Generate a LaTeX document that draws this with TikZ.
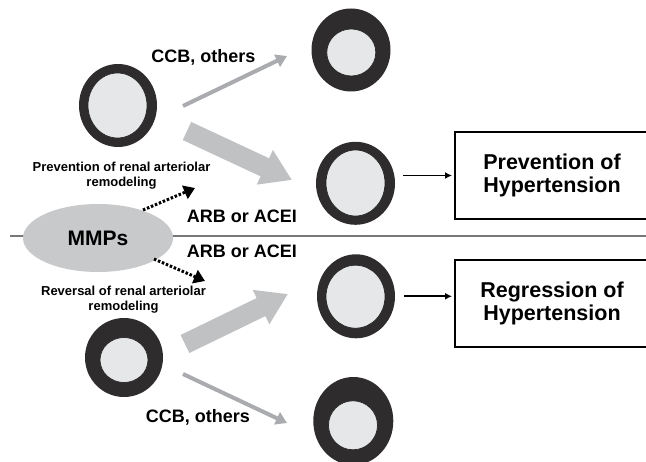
\documentclass[tikz,border=0pt]{standalone}
\usepackage{fontspec}
\setmainfont{Liberation Sans}
\usetikzlibrary{shapes.geometric,arrows.meta}
\definecolor{wallgray}{HTML}{2E2C2D}
\definecolor{lumengray}{HTML}{E6E7E8}
\definecolor{fatgray}{HTML}{C0C1C3}
\definecolor{druggray}{HTML}{A9ABAE}
\definecolor{mmpgray}{HTML}{C8C9CB}
\definecolor{sepgray}{HTML}{77787A}
\begin{document}
\begin{tikzpicture}[x=1pt, y=-1pt, inner sep=0pt, outer sep=0pt,
    wall/.style={ellipse, fill=wallgray},
    lumen/.style={ellipse, fill=lumengray, draw=black!85, line width=.7pt},
    lbl/.style={font=\bfseries\fontsize{18}{20}\selectfont, anchor=base},
    note/.style={font=\bfseries\fontsize{13}{15}\selectfont, align=center},
    outcome/.style={draw, line width=1.3pt, minimum width=194pt, minimum height=87pt, align=center,
      font=\bfseries\fontsize{21.5}{23}\selectfont},
    drug/.style={draw=druggray, line width=4pt, -{Triangle[length=11pt,width=13pt]}},
    fat/.style={draw=fatgray, line width=20pt, -{Triangle[length=30pt,width=36pt]}},
    act/.style={draw=black, line width=3pt, dash pattern=on 2.5pt off 1.8pt, -{Triangle[length=11pt,width=14pt]}},
    conn/.style={draw=black, line width=1.6pt, -{Latex[length=7pt,width=7pt]}}]
  \useasboundingbox (0,0) rectangle (646,462);
  \clip (0,0) rectangle (646,462);
  % separating line
  \coordinate (sepL) at (10,236.5);
  \coordinate (sepR) at (646,236.5);
  \draw[sepgray, line width=2pt] (sepL) -- (sepR);
  % vessels
  \node[wall, minimum width=78pt, minimum height=83pt] (v1o) at (118,105.5) {};
  \node[lumen, minimum width=59pt, minimum height=65pt] (v1i) at (117.5,105.5) {};
  \node[wall, minimum width=79pt, minimum height=83pt] (v2o) at (351,50) {};
  \node[lumen, minimum width=49pt, minimum height=47pt] (v2i) at (351.3,52.5) {};
  \node[wall, minimum width=79pt, minimum height=83pt] (v3o) at (355.5,183.3) {};
  \node[lumen, minimum width=59pt, minimum height=66pt] (v3i) at (355.5,183) {};
  \node[wall, minimum width=78pt, minimum height=84pt] (v4o) at (356,296.3) {};
  \node[lumen, minimum width=59pt, minimum height=63pt] (v4i) at (355.5,296.7) {};
  \node[wall, minimum width=80pt, minimum height=88pt] (v5o) at (353.3,421) {};
  \node[lumen, minimum width=49pt, minimum height=49pt] (v5i) at (353,425.3) {};
  \node[wall, minimum width=78pt, minimum height=79pt] (v6o) at (124,357.5) {};
  \node[lumen, minimum width=48pt, minimum height=45pt] (v6i) at (124,360) {};
  % MMPs
  \node[ellipse, fill=mmpgray, minimum width=150pt, minimum height=68pt,
    font=\bfseries\fontsize{21}{23}\selectfont] (mmp) at (98,238) {MMPs};
  % outcomes
  \node[outcome] (pbox) at (552,175.5) {Prevention of\\Hypertension};
  \node[outcome] (rbox) at (552,303.5) {Regression of\\Hypertension};
  % arrow ends
  \coordinate (d1s) at (183,106);
  \coordinate (d1e) at (287,56);
  \coordinate (f1s) at (187,131);
  \coordinate (f1e) at (292,180);
  \coordinate (f2s) at (185,344);
  \coordinate (f2e) at (288,294);
  \coordinate (d2s) at (183,374);
  \coordinate (d2e) at (287,423);
  \coordinate (a1s) at (143,210);
  \coordinate (a1e) at (195,188);
  \coordinate (a2s) at (154,259);
  \coordinate (a2e) at (205,281);
  \draw[drug] (d1s) -- (d1e);
  \draw[fat] (f1s) -- (f1e);
  \draw[fat] (f2s) -- (f2e);
  \draw[drug] (d2s) -- (d2e);
  \draw[act] (a1s) -- (a1e);
  \draw[act] (a2s) -- (a2e);
  \draw[conn, shorten <=8pt, shorten >=3pt] (v3o.east |- pbox.west) -- (pbox.west);
  \draw[conn, shorten <=9pt, shorten >=3pt] (v4o.east) -- (v4o.east -| rbox.west);
  % labels
  \node[lbl] (ccb1) at (203.5,63) {CCB, others};
  \node[lbl] (arb1) at (242,223) {ARB or ACEI};
  \node[lbl] (arb2) at (242,258) {ARB or ACEI};
  \node[lbl] (ccb2) at (198,423) {CCB, others};
  \node[note] (prev) at (121.5,176) {Prevention of renal arteriolar\\remodeling};
  \node[note] (rev) at (123.5,300) {Reversal of renal arteriolar\\remodeling};
\end{tikzpicture}
\end{document}
